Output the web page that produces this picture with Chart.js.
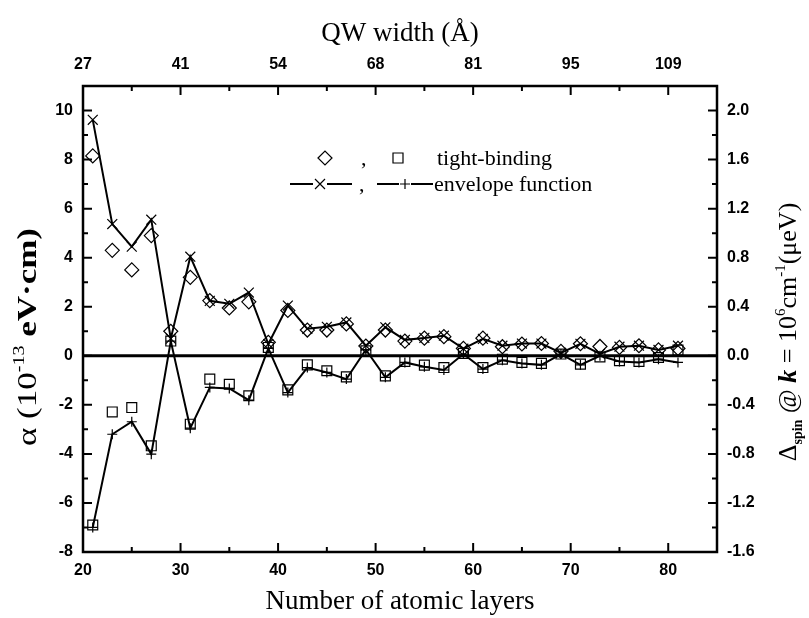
<!DOCTYPE html>
<html>
<head>
<meta charset="utf-8">
<script src="https://cdn.jsdelivr.net/npm/chart.js@4.4.1/dist/chart.umd.min.js"></script>
<style>
  html, body { margin: 0; padding: 0; background: #fff; }
  #wrap { width: 809px; height: 618px; }
</style>
</head>
<body>
<div id="wrap"><canvas id="rashba"></canvas></div>
<script>
// number of atomic layers
const layers = [21, 23, 25, 27, 29, 31, 33, 35, 37, 39, 41, 43, 45, 47, 49, 51,
                53, 55, 57, 59, 61, 63, 65, 67, 69, 71, 73, 75, 77, 79, 81];

// tight-binding (diamonds / squares)
const tbDiamond = [8.15, 4.3, 3.5, 4.9, 1.0, 3.2, 2.25, 1.95, 2.2, 0.55, 1.85, 1.05, 1.05, 1.3, 0.4, 1.05,
                   0.6, 0.72, 0.78, 0.3, 0.72, 0.37, 0.48, 0.5, 0.18, 0.49, 0.38, 0.34, 0.41, 0.24, 0.3];
const tbSquare = [-6.9, -2.29, -2.11, -3.67, 0.6, -2.79, -0.95, -1.16, -1.63, 0.34, -1.39, -0.37, -0.61, -0.86, 0.2, -0.82,
                  -0.23, -0.38, -0.48, 0.1, -0.48, -0.14, -0.27, -0.31, 0.07, -0.34, -0.05, -0.2, -0.23, -0.07, 0.23];

// envelope function (crosses / plus)
const efCross = [9.62, 5.37, 4.45, 5.55, 0.7, 4.04, 2.24, 2.12, 2.58, 0.48, 2.05, 1.1, 1.18, 1.36, 0.41, 1.16,
                 0.65, 0.73, 0.82, 0.29, 0.69, 0.41, 0.5, 0.5, 0.12, 0.49, 0.08, 0.37, 0.41, 0.24, 0.41];
const efPlus = [-7.0, -3.2, -2.69, -4.01, 0.6, -2.95, -1.29, -1.33, -1.81, 0.3, -1.5, -0.48, -0.68, -0.95, 0.25, -0.88,
                -0.27, -0.45, -0.58, 0.07, -0.54, -0.18, -0.31, -0.37, 0.07, -0.37, 0.0, -0.23, -0.27, -0.14, -0.27];

// axes
const xTicks = [20, 30, 40, 50, 60, 70, 80];
const xMinor = [25, 35, 45, 55, 65, 75];
const topTickLabels = ['27', '41', '54', '68', '81', '95', '109'];
const yTicks = [-8, -6, -4, -2, 0, 2, 4, 6, 8, 10];
const yMinor = [-7, -5, -3, -1, 1, 3, 5, 7, 9];
const rightTicks = [-1.6, -1.2, -0.8, -0.4, 0, 0.4, 0.8, 1.2, 1.6, 2.0];
const rightTickLabels = ['-1.6', '-1.2', '-0.8', '-0.4', '0.0', '0.4', '0.8', '1.2', '1.6', '2.0'];

const SERIF = '"Liberation Serif", "Times New Roman", serif';
const SANS = '"Liberation Sans", Arial, sans-serif';
const tickFont = { family: SANS, size: 16, weight: 'bold' };

const pts = arr => layers.map((x, i) => ({ x: x, y: arr[i] }));
const setTicks = vals => scale => { scale.ticks = vals.map(v => ({ value: v })); };

// rotated title made of pieces (super/subscripts), stretch = horizontal scale along the text
function drawRich(ctx, parts, cx, cy, stretch) {
  ctx.save();
  ctx.translate(cx, cy);
  ctx.rotate(-Math.PI / 2);
  ctx.scale(stretch || 1, 1);
  let total = 0;
  parts.forEach(p => { ctx.font = p.font; p.w = ctx.measureText(p.text).width; total += p.w; });
  let x = -total / 2;
  ctx.fillStyle = '#000';
  ctx.textBaseline = 'alphabetic';
  parts.forEach(p => { ctx.font = p.font; ctx.fillText(p.text, x, p.dy || 0); x += p.w; });
  ctx.restore();
}

function marker(ctx, style, x, y, r) {
  ctx.beginPath();
  if (style === 'diamond') {
    ctx.moveTo(x - r, y); ctx.lineTo(x, y - r); ctx.lineTo(x + r, y); ctx.lineTo(x, y + r); ctx.closePath();
  } else if (style === 'square') {
    ctx.rect(x - r, y - r, 2 * r, 2 * r);
  } else if (style === 'x') {
    ctx.moveTo(x - r, y - r); ctx.lineTo(x + r, y + r); ctx.moveTo(x + r, y - r); ctx.lineTo(x - r, y + r);
  } else {
    ctx.moveTo(x - r, y); ctx.lineTo(x + r, y); ctx.moveTo(x, y - r); ctx.lineTo(x, y + r);
  }
  ctx.stroke();
}

const decor = {
  id: 'decor',
  beforeDatasetsDraw(chart) {
    const { ctx, chartArea: a, scales } = chart;
    const y0 = scales.y.getPixelForValue(0);
    ctx.save();
    ctx.strokeStyle = '#000';
    ctx.lineWidth = 3;
    ctx.beginPath(); ctx.moveTo(a.left, y0); ctx.lineTo(a.right, y0); ctx.stroke();
    ctx.restore();
  },
  afterDraw(chart) {
    const { ctx, chartArea: a, scales } = chart;
    ctx.save();
    ctx.strokeStyle = '#000';
    ctx.lineWidth = 2.5;
    ctx.strokeRect(a.left, a.top, a.right - a.left, a.bottom - a.top);

    // inward ticks
    ctx.lineWidth = 2;
    ctx.beginPath();
    const vt = (v, len) => {
      const px = scales.x.getPixelForValue(v);
      ctx.moveTo(px, a.bottom); ctx.lineTo(px, a.bottom - len);
      ctx.moveTo(px, a.top); ctx.lineTo(px, a.top + len);
    };
    const ht = (v, len) => {
      const py = scales.y.getPixelForValue(v);
      ctx.moveTo(a.left, py); ctx.lineTo(a.left + len, py);
      ctx.moveTo(a.right, py); ctx.lineTo(a.right - len, py);
    };
    xTicks.forEach(v => vt(v, 9));
    xMinor.forEach(v => vt(v, 5));
    yTicks.forEach(v => ht(v, 9));
    yMinor.forEach(v => ht(v, 5));
    ctx.stroke();

    // side titles
    const lt = '28px ' + SERIF;
    drawRich(ctx, [
      { text: '\u03b1 (10', font: lt },
      { text: '-13', font: '16px ' + SERIF, dy: -12 },
      { text: ' eV\u00b7cm)', font: 'bold ' + lt }
    ], 36, 337, 1.25);
    const rt = '26px ' + SERIF;
    const sup = '15px ' + SERIF;
    drawRich(ctx, [
      { text: '\u0394', font: rt },
      { text: 'spin', font: 'bold 14px ' + SERIF, dy: 6 },
      { text: ' @ ', font: rt },
      { text: 'k', font: 'italic bold ' + rt },
      { text: ' = 10', font: rt },
      { text: '6', font: sup, dy: -11 },
      { text: 'cm', font: rt },
      { text: '-1', font: sup, dy: -11 },
      { text: '(\u03bceV)', font: rt }
    ], 796, 332);

    // legend
    ctx.lineWidth = 1.2;
    marker(ctx, 'diamond', 325, 158, 7);
    marker(ctx, 'square', 398, 158, 5);
    ctx.lineWidth = 2;
    ctx.beginPath();
    ctx.moveTo(290, 184); ctx.lineTo(313, 184);
    ctx.moveTo(327, 184); ctx.lineTo(352, 184);
    ctx.moveTo(377, 184); ctx.lineTo(399, 184);
    ctx.moveTo(411, 184); ctx.lineTo(433, 184);
    ctx.stroke();
    ctx.lineWidth = 1.2;
    marker(ctx, 'x', 320, 184, 5);
    marker(ctx, 'plus', 405, 184, 5);
    ctx.fillStyle = '#000';
    ctx.font = '22px ' + SERIF;
    ctx.textBaseline = 'alphabetic';
    ctx.fillText(',', 361, 165);
    ctx.fillText(',', 359, 191);
    ctx.fillText('tight-binding', 437, 165);
    ctx.fillText('envelope function', 434, 191);
    ctx.restore();
  }
};

const hollow = 'rgba(0,0,0,0)';

new Chart(document.getElementById('rashba'), {
  type: 'scatter',
  data: {
    datasets: [
      { label: 'tight-binding', data: pts(tbDiamond), showLine: false, pointStyle: 'rectRot',
        pointRadius: 7, borderColor: '#000', backgroundColor: hollow, pointBorderWidth: 1.2 },
      { label: 'tight-binding', data: pts(tbSquare), showLine: false, pointStyle: 'rect',
        pointRadius: 7, borderColor: '#000', backgroundColor: hollow, pointBorderWidth: 1.2 },
      { label: 'envelope function', data: pts(efCross), showLine: true, borderWidth: 2, tension: 0,
        pointStyle: 'crossRot', pointRadius: 7, borderColor: '#000', backgroundColor: hollow, pointBorderWidth: 1.2 },
      { label: 'envelope function', data: pts(efPlus), showLine: true, borderWidth: 2, tension: 0,
        pointStyle: 'cross', pointRadius: 5, borderColor: '#000', backgroundColor: hollow, pointBorderWidth: 1.2 }
    ]
  },
  options: {
    responsive: true,
    maintainAspectRatio: false,
    animation: false,
    devicePixelRatio: 1,
    layout: { padding: 0 },
    plugins: { legend: { display: false }, tooltip: { enabled: false } },
    scales: {
      x: {
        type: 'linear', position: 'bottom', min: 20, max: 85,
        afterBuildTicks: setTicks(xTicks),
        afterFit: s => { s.height = 66; },
        grid: { display: false, drawTicks: false },
        border: { display: false },
        ticks: { font: tickFont, color: '#000', padding: 9, maxRotation: 0 },
        title: { display: true, text: 'Number of atomic layers', color: '#000',
                 font: { family: SERIF, size: 27 }, padding: { top: 0, bottom: 0 } }
      },
      x2: {
        type: 'linear', position: 'top', min: 20, max: 85,
        afterBuildTicks: setTicks(xTicks),
        afterFit: s => { s.height = 86; },
        grid: { display: false, drawTicks: false },
        border: { display: false },
        ticks: { font: tickFont, color: '#000', padding: 12, maxRotation: 0,
                 callback: (v, i) => topTickLabels[i] },
        title: { display: true, text: 'QW width (\u00c5)', color: '#000',
                 font: { family: SERIF, size: 27 }, padding: { top: 18, bottom: 0 } }
      },
      y: {
        type: 'linear', position: 'left', min: -8, max: 11,
        afterBuildTicks: setTicks(yTicks),
        afterFit: s => { s.width = 83; },
        grid: { display: false, drawTicks: false },
        border: { display: false },
        ticks: { font: tickFont, color: '#000', padding: 10 }
      },
      y2: {
        type: 'linear', position: 'right', min: -1.6, max: 2.2,
        afterBuildTicks: setTicks(rightTicks),
        afterFit: s => { s.width = 92; },
        grid: { display: false, drawTicks: false },
        border: { display: false },
        ticks: { font: tickFont, color: '#000', padding: 10,
                 callback: (v, i) => rightTickLabels[i] }
      }
    }
  },
  plugins: [decor]
});
</script>
</body>
</html>
